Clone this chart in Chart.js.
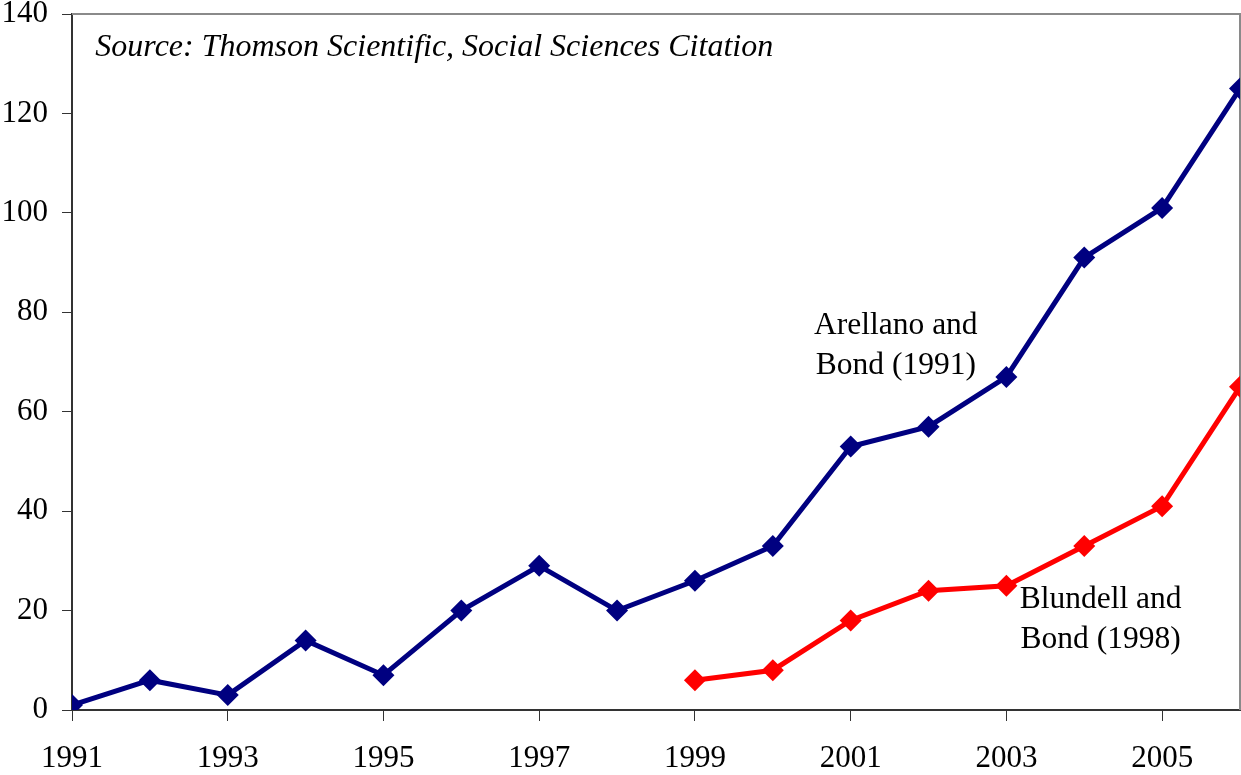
<!DOCTYPE html>
<html>
<head>
<meta charset="utf-8">
<script src="https://cdn.jsdelivr.net/npm/chart.js@4"></script>
<style>
    html, body { margin: 0; padding: 0; background: #fff; }
    #wrap { width: 1241px; height: 775px; position: relative; }
</style>
</head>
<body>
<div id="wrap"><canvas id="cites"></canvas></div>
<script>
const years = [1991, 1992, 1993, 1994, 1995, 1996, 1997, 1998, 1999, 2000, 2001, 2002, 2003, 2004, 2005, 2006];
const arellanoBond = [1, 6, 3, 14, 7, 20, 29, 20, 26, 33, 53, 57, 67, 91, 101, 125];
const blundellYears = [1999, 2000, 2001, 2002, 2003, 2004, 2005, 2006];
const blundellBond = [6, 8, 18, 24, 25, 33, 41, 65];
const xTicks = [1991, 1993, 1995, 1997, 1999, 2001, 2003, 2005];
const yTicks = [0, 20, 40, 60, 80, 100, 120, 140];

const serif = '"Liberation Serif", "Times New Roman", serif';

// labels drawn in data coordinates
const notes = [
    { x: 2001.58, y: 77.2, text: 'Arellano and' },
    { x: 2001.58, y: 69.2, text: 'Bond (1991)' },
    { x: 2004.21, y: 22.1, text: 'Blundell and' },
    { x: 2004.21, y: 14.1, text: 'Bond (1998)' }
];

const textPlugin = {
    id: 'textPlugin',
    beforeDatasetsDraw(chart) {
        const ctx = chart.ctx;
        const a = chart.chartArea;
        ctx.save();
        ctx.strokeStyle = '#8a8a8a';
        ctx.lineWidth = 2;
        ctx.beginPath();
        ctx.moveTo(a.left, a.top);
        ctx.lineTo(a.right, a.top);
        ctx.lineTo(a.right, a.bottom);
        ctx.stroke();
        ctx.restore();
    },
    afterDraw(chart) {
        const ctx = chart.ctx;
        const xs = chart.scales.x;
        const ys = chart.scales.y;
        ctx.save();
        ctx.fillStyle = '#000';
        ctx.textBaseline = 'middle';
        ctx.font = 'italic 32px ' + serif;
        ctx.textAlign = 'left';
        ctx.fillText('Source: Thomson Scientific, Social Sciences Citation', xs.getPixelForValue(1991.3), ys.getPixelForValue(133.2));
        ctx.font = '31.5px ' + serif;
        ctx.textAlign = 'center';
        notes.forEach(n => {
            ctx.fillText(n.text, xs.getPixelForValue(n.x), ys.getPixelForValue(n.y));
        });
        ctx.restore();
    }
};

function initChart() {
    const ctx = document.getElementById('cites').getContext('2d');
    new Chart(ctx, {
        type: 'line',
        data: {
            datasets: [{
                data: years.map((yr, i) => ({ x: yr, y: arellanoBond[i] })),
                borderColor: '#000080',
                backgroundColor: '#000080',
                borderWidth: 5,
                pointStyle: 'rectRot',
                pointRadius: 11,
                pointBorderWidth: 0,
                tension: 0
            }, {
                data: blundellYears.map((yr, i) => ({ x: yr, y: blundellBond[i] })),
                borderColor: '#ff0000',
                backgroundColor: '#ff0000',
                borderWidth: 5,
                pointStyle: 'rectRot',
                pointRadius: 11,
                pointBorderWidth: 0,
                tension: 0
            }]
        },
        options: {
            responsive: true,
            maintainAspectRatio: false,
            animation: false,
            layout: { autoPadding: false, padding: { top: 14, right: 1, left: 0, bottom: 0 } },
            plugins: {
                legend: { display: false },
                tooltip: { enabled: false }
            },
            scales: {
                x: {
                    type: 'linear',
                    min: 1991,
                    max: 2006,
                    afterBuildTicks: axis => { axis.ticks = xTicks.map(v => ({ value: v })); },
                    afterFit: axis => {
                        axis.height = 65;
                        axis.paddingLeft = 0;
                        axis.paddingRight = 0;
                    },
                    grid: {
                        drawOnChartArea: false,
                        drawTicks: true,
                        tickLength: 11,
                        color: '#333',
                        lineWidth: 1
                    },
                    border: { color: '#333', width: 2 },
                    ticks: {
                        autoSkip: false,
                        maxRotation: 0,
                        padding: 19,
                        color: '#000',
                        font: { family: serif, size: 31 },
                        callback: v => String(v)
                    }
                },
                y: {
                    min: 0,
                    max: 140,
                    afterBuildTicks: axis => { axis.ticks = yTicks.map(v => ({ value: v })); },
                    afterFit: axis => {
                        axis.width = 72;
                        axis.paddingTop = 0;
                        axis.paddingBottom = 0;
                    },
                    grid: {
                        drawOnChartArea: false,
                        drawTicks: true,
                        tickLength: 10,
                        color: '#333',
                        lineWidth: 1
                    },
                    border: { color: '#333', width: 2 },
                    ticks: {
                        padding: 14,
                        color: '#000',
                        font: { family: serif, size: 31 }
                    }
                }
            }
        },
        plugins: [textPlugin]
    });
}

initChart();
</script>
</body>
</html>
